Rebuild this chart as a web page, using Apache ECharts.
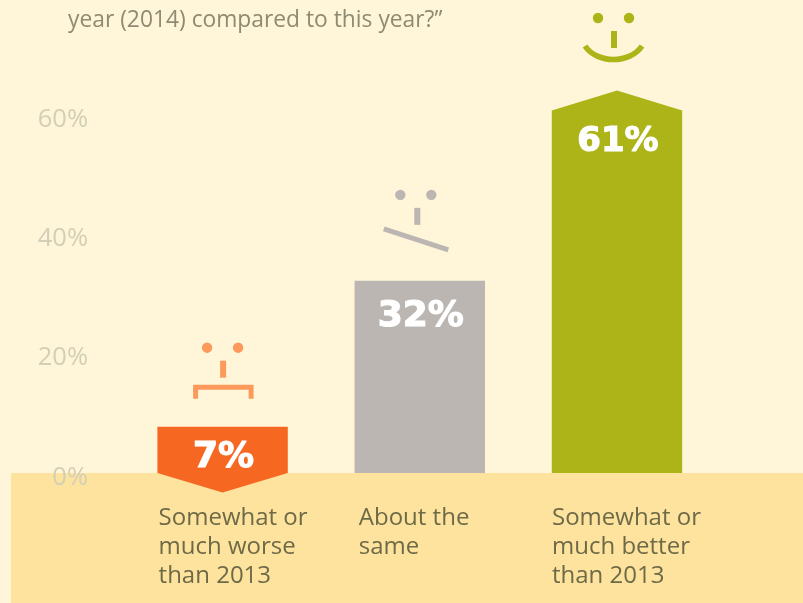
<!DOCTYPE html>
<html><head><meta charset="utf-8">
<style>html,body{margin:0;padding:0;background:#FFF5D9}#c{width:803px;height:603px}</style>
<script src="https://cdn.jsdelivr.net/npm/echarts@6/dist/echarts.min.js"></script>
</head><body><div id="c"></div>
<script>
const categories = ["Somewhat or\nmuch worse\nthan 2013", "About the\nsame", "Somewhat or\nmuch better\nthan 2013"];
const barHeights = [7.76, 32.2, 60.75];
const valueLabels = ["7%", "32%", "61%"];
const yTicks = [0, 20, 40, 60];
const barColors = ["#F66821", "#BBB6B1", "#ADB417"];
const faceColors = ["#FB9A5B", "#BBB6B1", "#ADB417"];

const chart = echarts.init(document.getElementById('c'), null, {renderer:'canvas'});

const labelDrop = [31, 36, 32];
const labelSize = [36, 36, 34];
const categoryIndent = [1, 4, 0];
const faceLift = [79, 86, 92.5];
const noseShift = [0.5, 1.5, 0.5];

function mouth(i, cx, ey, col){
  if(i===0){
    return {type:'polyline', shape:{points:[[cx-27,ey+51],[cx-27,ey+39.5],[cx+28.5,ey+39.5],[cx+28.5,ey+51]]},
      style:{stroke:col, fill:null, lineWidth:5}};
  }
  if(i===1){
    return {type:'line', shape:{x1:cx-36,y1:ey+34,x2:cx+28.5,y2:ey+55},
      style:{stroke:col, lineWidth:5}};
  }
  return {type:'bezierCurve', shape:{x1:cx-32,y1:ey+28,cpx1:cx-20,cpy1:ey+46,cpx2:cx+13,cpy2:ey+46,x2:cx+25,y2:ey+28},
    style:{stroke:col, fill:null, lineWidth:5.5}};
}

function renderBar(params, api){
  const i = api.value(0);
  const v = api.value(1);
  const top = api.coord([i, v]);
  const base = api.coord([i, 0]);
  const cx = top[0];
  const hw = 65.2;
  const tip = 19.5;
  let pts;
  if(i===0){
    pts = [[cx-hw,top[1]],[cx+hw,top[1]],[cx+hw,base[1]],[cx,base[1]+tip],[cx-hw,base[1]]];
  } else if(i===1){
    pts = [[cx-hw,top[1]],[cx+hw,top[1]],[cx+hw,base[1]],[cx-hw,base[1]]];
  } else {
    pts = [[cx-hw,top[1]],[cx,top[1]-tip-0.5],[cx+hw,top[1]],[cx+hw,base[1]],[cx-hw,base[1]]];
  }
  const col = faceColors[i];
  const ey = top[1]-faceLift[i];
  const shift = i===0 ? 0 : (i===1 ? -4 : -3.5);
  const fx = cx + shift;
  return {type:'group', children:[
    {type:'polygon', shape:{points:pts}, style:{fill:barColors[i]}},
    {type:'text', style:{text:valueLabels[i], x:cx+1, y:top[1]+labelDrop[i], fill:'#fff', stroke:'#fff', lineWidth:1.2,
      font:'bold '+labelSize[i]+'px "DejaVu Sans"', align:'center', verticalAlign:'middle'}},
    {type:'circle', shape:{cx:fx-15.5,cy:ey,r:5.2}, style:{fill:col}},
    {type:'circle', shape:{cx:fx+15.5,cy:ey,r:5.2}, style:{fill:col}},
    {type:'rect', shape:{x:fx-3+noseShift[i],y:ey+13,width:6,height:17}, style:{fill:col}},
    mouth(i, cx, ey, col)
  ]};
}

const plotBaseY = 473, unit = 5.967;
chart.setOption({
  animation:false,
  backgroundColor:'#FFF5D9',
  graphic:[
    {type:'rect', z:-10, shape:{x:11,y:plotBaseY,width:792,height:130}, style:{fill:'#FDE39E'}},
    {type:'text', left:68, top:9, style:{text:'year (2014) compared to this year?”', fill:'#8F8B72', font:'22.8px "Open Sans"'}}
  ],
  grid:{left:124, width:591.6, top:plotBaseY-70*unit, height:70*unit},
  xAxis:{type:'category', data:categories, axisLine:{show:false}, axisTick:{show:false}, splitLine:{show:false},
    axisLabel:{interval:0, margin:31, verticalAlign:'top',
      formatter:(val,idx)=>val.split('\n').map(s=>`{c${idx}|${s}}`).join('\n'),
      rich:Object.fromEntries(categoryIndent.map((p,i)=>['c'+i,{
        width:130-p, padding:[0,0,0,p], align:'left', fontSize:24, lineHeight:29,
        color:'#6E6A47', fontFamily:'Open Sans'}]))
    }},
  yAxis:{type:'value', min:0, max:70, interval:20, axisLine:{show:false}, axisTick:{show:false}, splitLine:{show:false},
    axisLabel:{margin:36, color:'#D3CFB7', fontSize:25.5, fontFamily:'Open Sans', verticalAlign:'top', lineHeight:9,
      formatter:v=>yTicks.includes(v)?v+'%':''}},
  series:[{type:'custom', clip:false, coordinateSystem:'cartesian2d', z:5,
    encode:{x:0,y:1}, renderItem:renderBar,
    data:barHeights.map((v,i)=>[i,v])}]
});
</script></body></html>
